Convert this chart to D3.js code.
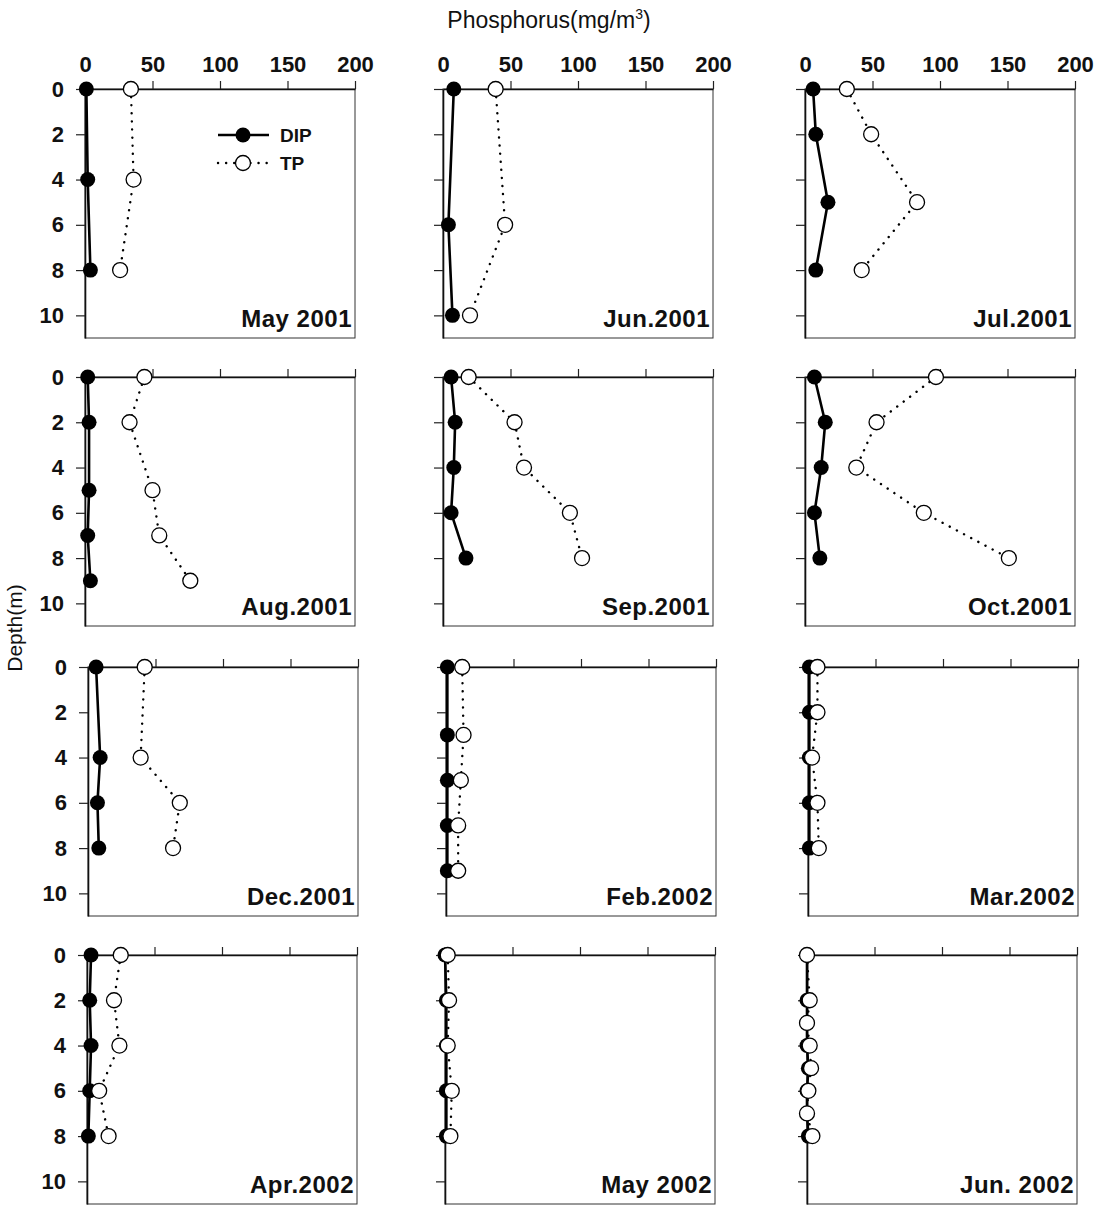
<!DOCTYPE html>
<html lang="en">
  <head>
    <meta charset="UTF-8" />
    <title>Phosphorus depth profiles</title>
    <script src="https://d3js.org/d3.v7.min.js"></script>
    <style>
      body {
        margin: 0;
        background: #fff;
      }
      svg text {
        font-family: "Liberation Sans", Arial, sans-serif;
        fill: #111;
      }
      .tick text {
        font-weight: bold;
        font-size: 22px;
      }
      .tick line {
        stroke: #222;
        stroke-width: 1.2px;
      }
    </style>
  </head>
  <body>
    <svg width="1104" height="1206"></svg>
    <script>
      // panel labels, left to right, top to bottom
      const panelLabels = [
        "May 2001", "Jun.2001", "Jul.2001",
        "Aug.2001", "Sep.2001", "Oct.2001",
        "Dec.2001", "Feb.2002", "Mar.2002",
        "Apr.2002", "May 2002", "Jun. 2002",
      ];

      // sampling depths (m) for each panel
      const dipDepths = [
        [0, 4, 8], [0, 6, 10], [0, 2, 5, 8],
        [0, 2, 5, 7, 9], [0, 2, 4, 6, 8], [0, 2, 4, 6, 8],
        [0, 4, 6, 8], [0, 3, 5, 7, 9], [0, 2, 4, 6, 8],
        [0, 2, 4, 6, 8], [0, 2, 4, 6, 8], [0, 2, 3, 4, 5, 6, 7, 8],
      ];
      const tpDepths = dipDepths;

      // DIP (mg/m3)
      const dipValues = [
        [1, 2, 4], [8, 4, 7], [6, 8, 17, 8],
        [2, 3, 3, 2, 4], [6, 9, 8, 6, 17], [7, 15, 12, 7, 11],
        [6, 9, 7, 8], [1, 1, 1, 1, 1], [1, 1, 1, 1, 1],
        [3, 2, 3, 2, 1], [0, 1, 1, 1, 1], [0, 0, 0, 0, 1, 0, 0, 1],
      ];

      // TP (mg/m3)
      const tpValues = [
        [34, 36, 26], [39, 46, 20], [31, 49, 83, 42],
        [44, 33, 50, 55, 78], [19, 53, 60, 94, 103], [97, 53, 38, 88, 151],
        [42, 39, 68, 63], [12, 13, 11, 9, 9], [7, 7, 3, 7, 8],
        [25, 20, 24, 9, 16], [2, 3, 2, 5, 4], [0, 2, 0, 2, 3, 1, 0, 4],
      ];

      const xTicks = [0, 50, 100, 150, 200];
      const yTicks = [0, 2, 4, 6, 8, 10];

      // layout
      const colX = [85, 443, 805];
      const rowY = [89, 377, 667, 955];
      const rowDx = [0, 0, 3, 2];
      const pw = 270,
        ph = 249;

      const svg = d3.select("svg");

      const x = d3.scaleLinear().domain([0, 200]).range([0, pw]);
      const y = d3.scaleLinear().domain([0, 11]).range([0, ph]);

      const line = d3
        .line()
        .x((d) => x(d.v))
        .y((d) => y(d.z));

      // overall titles
      const title = svg
        .append("text")
        .attr("x", 549)
        .attr("y", 28)
        .attr("text-anchor", "middle")
        .style("font-size", "23px");
      title.append("tspan").text("Phosphorus(mg/m");
      title
        .append("tspan")
        .attr("dy", -9)
        .style("font-size", "14px")
        .text("3");
      title.append("tspan").attr("dy", 9).text(")");

      svg
        .append("text")
        .attr("transform", "translate(22,628) rotate(-90)")
        .attr("text-anchor", "middle")
        .style("font-size", "21px")
        .text("Depth(m)");

      panelLabels.forEach((label, i) => {
        const row = Math.floor(i / 3),
          col = i % 3;
        const g = svg
          .append("g")
          .attr(
            "transform",
            `translate(${colX[col] + rowDx[row]},${rowY[row]})`
          );

        // frame
        g.append("rect")
          .attr("width", pw)
          .attr("height", ph)
          .attr("fill", "none")
          .attr("stroke", "#333")
          .attr("stroke-width", 1);

        // top axis
        const xa = g
          .append("g")
          .call(
            d3
              .axisTop(x)
              .tickValues(xTicks)
              .tickSize(8)
              .tickSizeOuter(0)
              .tickPadding(9)
          );
        xa.select(".domain").attr("stroke", "#111").attr("stroke-width", 1.6);
        xa.selectAll(".tick")
          .filter((d) => d === 0)
          .select("line")
          .remove();
        if (row > 0) xa.selectAll(".tick text").remove();

        // left axis
        const ya = g
          .append("g")
          .call(
            d3
              .axisLeft(y)
              .tickValues(yTicks)
              .tickSize(9)
              .tickSizeOuter(0)
              .tickPadding(12)
          );
        ya.select(".domain").attr("stroke", "#111").attr("stroke-width", 1.6);
        if (col > 0) ya.selectAll(".tick text").remove();

        const dip = dipDepths[i].map((z, k) => ({ z: z, v: dipValues[i][k] }));
        const tp = tpDepths[i].map((z, k) => ({ z: z, v: tpValues[i][k] }));

        // DIP
        g.append("path")
          .datum(dip)
          .attr("d", line)
          .attr("fill", "none")
          .attr("stroke", "#000")
          .attr("stroke-width", 2.6);
        g.selectAll(".dip")
          .data(dip)
          .enter()
          .append("circle")
          .attr("class", "dip")
          .attr("cx", (d) => x(d.v))
          .attr("cy", (d) => y(d.z))
          .attr("r", 7.5)
          .attr("fill", "#000");

        // TP
        g.append("path")
          .datum(tp)
          .attr("d", line)
          .attr("fill", "none")
          .attr("stroke", "#000")
          .attr("stroke-width", 2.4)
          .attr("stroke-linecap", "round")
          .attr("stroke-dasharray", "0.1,8");
        g.selectAll(".tp")
          .data(tp)
          .enter()
          .append("circle")
          .attr("class", "tp")
          .attr("cx", (d) => x(d.v))
          .attr("cy", (d) => y(d.z))
          .attr("r", 7.5)
          .attr("fill", "#fff")
          .attr("stroke", "#000")
          .attr("stroke-width", 1.3);

        g.append("text")
          .attr("x", pw - 3)
          .attr("y", ph - 11)
          .attr("text-anchor", "end")
          .style("font-weight", "bold")
          .style("font-size", "24px")
          .style("letter-spacing", "0.5px")
          .text(label);

        // legend in the first panel
        if (i === 0) {
          const lg = g.append("g").attr("transform", "translate(133,46)");
          lg.append("line")
            .attr("x1", 0)
            .attr("x2", 51)
            .attr("stroke", "#000")
            .attr("stroke-width", 2.6);
          lg.append("circle").attr("cx", 25).attr("r", 7.5).attr("fill", "#000");
          lg.append("text")
            .attr("x", 62)
            .attr("y", 7)
            .style("font-weight", "bold")
            .style("font-size", "19px")
            .text("DIP");
          lg.append("line")
            .attr("x1", 0)
            .attr("x2", 50)
            .attr("y1", 28)
            .attr("y2", 28)
            .attr("stroke", "#000")
            .attr("stroke-width", 2.4)
            .attr("stroke-linecap", "round")
            .attr("stroke-dasharray", "0.1,8");
          lg.append("circle")
            .attr("cx", 25)
            .attr("cy", 28)
            .attr("r", 7.5)
            .attr("fill", "#fff")
            .attr("stroke", "#000")
            .attr("stroke-width", 1.3);
          lg.append("text")
            .attr("x", 62)
            .attr("y", 35)
            .style("font-weight", "bold")
            .style("font-size", "19px")
            .text("TP");
        }
      });
    </script>
  </body>
</html>
